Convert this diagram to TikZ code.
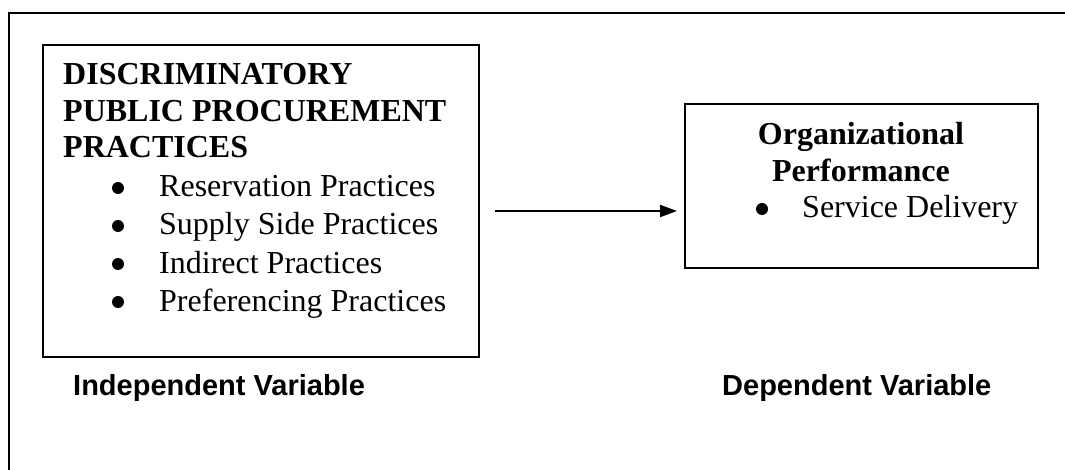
\documentclass[tikz,border=0pt]{standalone}
\usepackage{fontspec}
\setmainfont{Liberation Serif}
\newfontfamily\labelfont{Liberation Sans}
\usetikzlibrary{arrows.meta}
\begin{document}
\begin{tikzpicture}[x=1pt,y=-1pt,
  box/.style={draw=black,line width=2pt},
  txt/.style={inner sep=0pt,anchor=base west,font=\fontsize{32}{38}\selectfont},
  head/.style={txt,font=\fontsize{32}{38}\selectfont\bfseries},
  bul/.style={circle,fill=black,inner sep=0pt,minimum size=12pt},
  lab/.style={inner sep=0pt,anchor=base west,font=\labelfont\fontsize{29}{34}\selectfont\bfseries},
  conn/.style={line width=2pt,-{Triangle[length=17pt,width=12pt]}}]
\useasboundingbox (0,0) rectangle (1065,470);
% outer frame (only left and top edges visible)
\coordinate (fbl) at (9,472);
\coordinate (ftl) at (9,13);
\coordinate (ftr) at (1067,13);
\draw[line width=2pt] (fbl) -- (ftl) -- (ftr);
% left box
\node[box,minimum width=436pt,minimum height=312pt,inner sep=0pt] (lbox) at (261,201) {};
\node[head] (h1) at (63,85) {DISCRIMINATORY};
\node[head] (h2) at (63,122) {PUBLIC PROCUREMENT};
\node[head] (h3) at (63,158) {PRACTICES};
\node[bul] (b1) at (118,188) {};
\node[txt] (i1) at (159,197) {Reservation Practices};
\node[bul] (b2) at (118,226) {};
\node[txt] (i2) at (159,235) {Supply Side Practices};
\node[bul] (b3) at (118,264) {};
\node[txt] (i3) at (159,273) {Indirect Practices};
\node[bul] (b4) at (118,302) {};
\node[txt] (i4) at (159,311) {Preferencing Practices};
% right box
\node[box,minimum width=353pt,minimum height=164pt,inner sep=0pt] (rbox) at (861.5,186) {};
\node[head,anchor=base] (r1) at (861,145) {Organizational};
\node[head,anchor=base] (r2) at (861,182) {Performance};
\node[bul] (b5) at (762,209) {};
\node[txt] (r3) at (802,218) {Service Delivery};
% connector
\coordinate (as) at (495,211);
\coordinate (ae) at (677,211);
\draw[conn] (as) -- (ae);
% labels
\node[lab] (l1) at (73,395) {Independent Variable};
\node[lab] (l2) at (722,395) {Dependent Variable};
\end{tikzpicture}
\end{document}
